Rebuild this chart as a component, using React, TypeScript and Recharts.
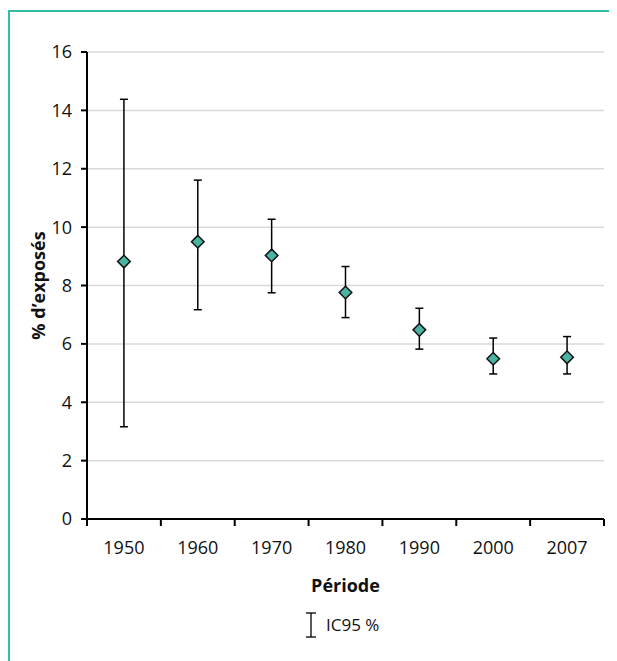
import React from 'react';
import { ComposedChart, Scatter, XAxis, YAxis, CartesianGrid, ErrorBar, Legend } from 'recharts';

const years = ['1950', '1960', '1970', '1980', '1990', '2000', '2007'];
const pct = [8.82, 9.5, 9.03, 7.76, 6.48, 5.49, 5.54];
const lower = [3.16, 7.17, 7.75, 6.9, 5.82, 4.97, 4.97];
const upper = [14.38, 11.61, 10.27, 8.65, 7.22, 6.2, 6.25];
const yTicks = [0, 2, 4, 6, 8, 10, 12, 14, 16];

const data = years.map((year, i) => ({
  year,
  value: pct[i],
  err: [pct[i] - lower[i], upper[i] - pct[i]],
}));

const FONT = "'Open Sans', 'Noto Sans', sans-serif";
const TEXT = '#111111';
const TEAL = '#35bca7';

const Diamond = (props: any) => {
  const { cx, cy } = props;
  if (cx == null || cy == null) return null;
  const r = 6.3;
  return (
    <path
      d={`M${cx},${cy - r}L${cx + r},${cy}L${cx},${cy + r}L${cx - r},${cy}Z`}
      fill="#4ab4a2"
      stroke="#111"
      strokeWidth={1.5}
    />
  );
};

const XTick = (props: any) => {
  const { x, y, payload, index, visibleTicksCount } = props;
  const half = payload && payload.offset ? payload.offset : 37;
  return (
    <g>
      <line x1={x - half} x2={x - half} y1={y} y2={y + 7} stroke="#000" strokeWidth={2} />
      {index === visibleTicksCount - 1 && (
        <line x1={x + half} x2={x + half} y1={y} y2={y + 7} stroke="#000" strokeWidth={2} />
      )}
      <text x={x} y={y + 35} textAnchor="middle" fill={TEXT} fontSize={18} fontFamily={FONT}>
        {payload.value}
      </text>
    </g>
  );
};

const LegendContent = () => (
  <div style={{ display: 'flex', alignItems: 'center', fontFamily: FONT, fontSize: 17, color: TEXT, lineHeight: '26px' }}>
    <svg width={12} height={26}>
      <line x1={6} y1={1} x2={6} y2={25} stroke="#000" strokeWidth={1.3} />
      <line x1={1} y1={1} x2={11} y2={1} stroke="#000" strokeWidth={1.3} />
      <line x1={1} y1={25} x2={11} y2={25} stroke="#000" strokeWidth={1.3} />
    </svg>
    <span style={{ marginLeft: 9 }}>IC95 %</span>
  </div>
);

export default function App() {
  return (
    <div
      style={{
        marginTop: 2,
        width: 607,
        height: 649,
        borderTop: `2px solid ${TEAL}`,
        borderLeft: `2px solid ${TEAL}`,
        fontFamily: FONT,
      }}
    >
      <ComposedChart width={607} height={649} data={data} margin={{ top: 40, right: 13, bottom: 102, left: 17 }}>
        <CartesianGrid vertical={false} stroke="#d9d9d9" strokeWidth={1.5} />
        <XAxis
          dataKey="year"
          type="category"
          scale="band"
          axisLine={{ stroke: '#000', strokeWidth: 2 }}
          tickLine={false}
          tickSize={0}
          tickMargin={0}
          height={40}
          interval={0}
          tick={<XTick />}
          label={{ value: 'Période', position: 'bottom', offset: 20, fill: TEXT, fontSize: 18, fontWeight: 'bold', fontFamily: FONT }}
        />
        <YAxis
          type="number"
          domain={[0, 16]}
          ticks={yTicks}
          interval={0}
          width={60}
          axisLine={{ stroke: '#000', strokeWidth: 2 }}
          tickLine={{ stroke: '#000', strokeWidth: 2 }}
          tickSize={6}
          tickMargin={9}
          tick={{ fill: TEXT, fontSize: 18, fontFamily: FONT }}
          label={{
            value: '% d’exposés',
            angle: -90,
            position: 'insideLeft',
            offset: 8,
            dx: 4,
            fill: TEXT,
            fontSize: 18,
            fontWeight: 'bold',
            fontFamily: FONT,
            style: { textAnchor: 'middle' },
          }}
        />
        <Scatter dataKey="value" shape={<Diamond />} isAnimationActive={false}>
          <ErrorBar dataKey="err" direction="y" width={4} stroke="#000" strokeWidth={1.5} isAnimationActive={false} />
        </Scatter>
        <Legend
          layout="horizontal"
          verticalAlign="middle"
          align="center"
          content={<LegendContent />}
          wrapperStyle={{ left: 295, top: 600, width: 'auto' }}
        />
      </ComposedChart>
    </div>
  );
}
